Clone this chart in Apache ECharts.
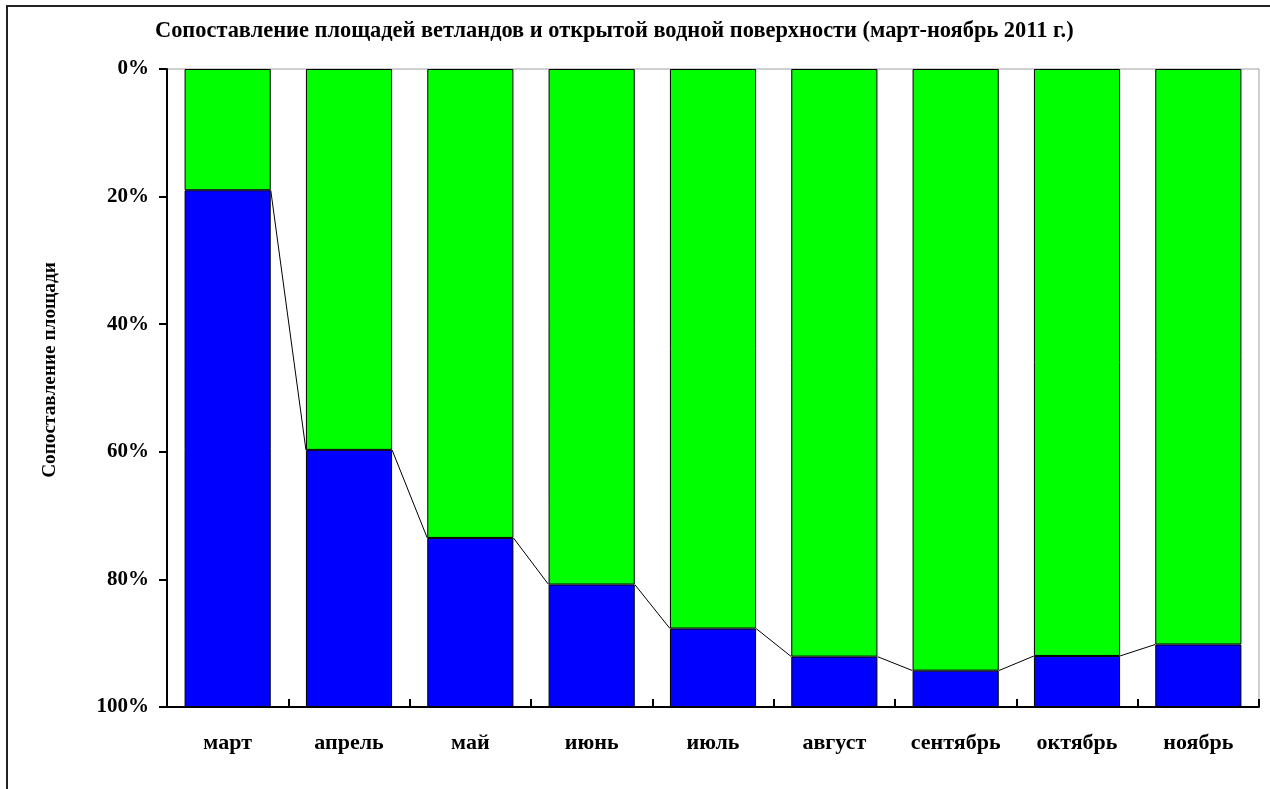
<!DOCTYPE html>
<html>
<head>
<meta charset="utf-8">
<script src="https://cdn.jsdelivr.net/npm/echarts@6/dist/echarts.min.js"></script>
<style>
  html, body { margin: 0; padding: 0; background: #fff; }
  #chart { width: 1270px; height: 789px; }
</style>
</head>
<body>
<div id="chart"></div>
<script>
// Months of the observation period
const months = ['март', 'апрель', 'май', 'июнь', 'июль', 'август', 'сентябрь', 'октябрь', 'ноябрь'];
// Share of each area per month, percent (stacked from the top of the inverted axis)
const openWater = [19.0, 59.7, 73.5, 80.8, 87.7, 92.1, 94.3, 92.0, 90.2];
const wetlands = [81.0, 40.3, 26.5, 19.2, 12.3, 7.9, 5.7, 8.0, 9.8];
// Value axis ticks
const yTicks = { min: 0, max: 100, step: 20 };

const FONT = 'Liberation Serif';
const BAR_RATIO = 0.71;

const chart = echarts.init(document.getElementById('chart'), null, { renderer: 'canvas' });

// Connector lines between the boundaries of neighbouring stacks
const connectorData = openWater.map((v, i) => [i, v, i + 1 < openWater.length ? openWater[i + 1] : null]);

const option = {
  animation: false,
  backgroundColor: '#fff',
  title: {
    text: 'Сопоставление площадей ветландов и открытой водной поверхности (март-ноябрь 2011 г.)',
    left: 150,
    top: 15,
    textStyle: { fontFamily: FONT, fontWeight: 'bold', fontSize: 22.4, color: '#000' }
  },
  graphic: [{
    type: 'rect',
    shape: { x: 7, y: 6, width: 1400, height: 900 },
    style: { fill: null, stroke: '#222', lineWidth: 2 },
    silent: true,
    z: 100
  }],
  grid: {
    left: 167, top: 69, right: 11, bottom: 82,
    show: true, borderColor: '#a0a0a0', borderWidth: 1, backgroundColor: '#fff'
  },
  xAxis: {
    type: 'category',
    position: 'bottom',
    data: months,
    axisLine: { show: true, onZero: false, lineStyle: { color: '#000', width: 2 } },
    axisTick: { show: true, inside: true, length: 8, lineStyle: { color: '#000', width: 2 } },
    axisLabel: { margin: 25, fontFamily: FONT, fontWeight: 'bold', fontSize: 22, color: '#000' },
    splitLine: { show: false }
  },
  yAxis: {
    type: 'value',
    inverse: true,
    min: yTicks.min,
    max: yTicks.max,
    interval: yTicks.step,
    name: 'Сопоставление площади',
    nameLocation: 'middle',
    nameGap: 107,
    nameRotate: 90,
    nameTextStyle: { fontFamily: FONT, fontWeight: 'bold', fontSize: 19.3, color: '#000', padding: [0, 0, 0, 36] },
    axisLine: { show: true, lineStyle: { color: '#000', width: 2 } },
    axisTick: { show: true, length: 8, lineStyle: { color: '#000', width: 2 } },
    axisLabel: { formatter: '{value}%', margin: 18, fontFamily: FONT, fontWeight: 'bold', fontSize: 21, color: '#000' },
    splitLine: { show: false }
  },
  series: [
    {
      name: 'открытая водная поверхность',
      type: 'bar',
      stack: 'total',
      barWidth: (BAR_RATIO * 100) + '%',
      data: openWater,
      itemStyle: { color: '#00ff00', borderColor: '#000', borderWidth: 1 }
    },
    {
      name: 'ветланды',
      type: 'bar',
      stack: 'total',
      barWidth: (BAR_RATIO * 100) + '%',
      data: wetlands,
      itemStyle: { color: '#0000ff', borderColor: '#000', borderWidth: 1 }
    },
    {
      type: 'custom',
      silent: true,
      z: 5,
      data: connectorData,
      renderItem: function (params, api) {
        const next = api.value(2);
        if (next === null || next === undefined || isNaN(next)) return null;
        const i = api.value(0);
        const p1 = api.coord([i, api.value(1)]);
        const p2 = api.coord([i + 1, next]);
        const half = api.size([1, 0])[0] * BAR_RATIO / 2;
        return {
          type: 'line',
          shape: { x1: p1[0] + half, y1: p1[1], x2: p2[0] - half, y2: p2[1] },
          style: { stroke: '#000', lineWidth: 1 }
        };
      }
    }
  ]
};

chart.setOption(option);
</script>
</body>
</html>
